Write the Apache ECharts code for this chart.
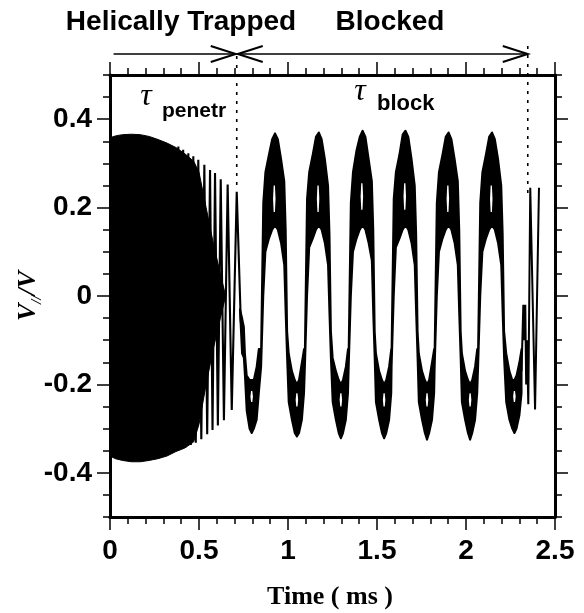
<!DOCTYPE html>
<html><head><meta charset="utf-8">
<script src="https://cdn.jsdelivr.net/npm/echarts@6/dist/echarts.min.js"></script>
<style>html,body{margin:0;padding:0;background:#fff}#c{width:584px;height:613px}</style>
</head><body><div id="c"></div>
<script>
// ---------- data ----------
// time in ms, value V_par / V

// densely oscillating part (solid black envelope)
const denseT  = [0.000, 0.030, 0.070, 0.120, 0.170, 0.220, 0.270, 0.320, 0.370, 0.420, 0.470, 0.500, 0.540, 0.580, 0.620, 0.650];
const denseHi = [0.358, 0.362, 0.365, 0.366, 0.365, 0.361, 0.354, 0.346, 0.336, 0.322, 0.305, 0.280, 0.200, 0.120, 0.050, 0.000];
const denseLo = [-0.362, -0.368, -0.372, -0.375, -0.375, -0.372, -0.368, -0.362, -0.352, -0.344, -0.330, -0.290, -0.200, -0.120, -0.050, 0.000];

// resolved fast oscillations (extremes) before the blocking
const fastT = [0.370, 0.384, 0.397, 0.411, 0.425, 0.440, 0.454, 0.468, 0.482, 0.496, 0.513, 0.530, 0.546, 0.562, 0.576, 0.590, 0.606, 0.622, 0.640, 0.661, 0.684, 0.712, 0.735];
const fastV = [-0.350, 0.338, -0.346, 0.331, -0.342, 0.323, -0.337, 0.316, -0.332, 0.308, -0.324, 0.297, -0.313, 0.285, -0.303, 0.278, -0.293, 0.264, -0.281, 0.252, -0.258, 0.236, -0.060];

// slow (blocked) oscillation: upper and lower edge of the rippled trace
const slowT = [
  0.730, 0.742, 0.752, 0.758, 0.768, 0.784, 0.796, 0.808, 0.824, 0.836,
  0.849, 0.861, 0.873, 0.893, 0.911, 0.927, 0.943, 0.961, 0.979, 0.987, 0.995,
  1.004, 1.022, 1.038, 1.050, 1.062, 1.078, 1.090,
  1.095, 1.107, 1.119, 1.139, 1.157, 1.173, 1.189, 1.207, 1.225, 1.233, 1.241,
  1.251, 1.269, 1.285, 1.297, 1.309, 1.325, 1.337,
  1.341, 1.353, 1.365, 1.385, 1.403, 1.419, 1.435, 1.453, 1.471, 1.479, 1.487,
  1.494, 1.512, 1.528, 1.540, 1.552, 1.568, 1.580,
  1.582, 1.594, 1.606, 1.626, 1.644, 1.660, 1.676, 1.694, 1.712, 1.720, 1.728,
  1.735, 1.753, 1.769, 1.781, 1.793, 1.809, 1.821,
  1.824, 1.836, 1.848, 1.868, 1.886, 1.902, 1.918, 1.936, 1.954, 1.962, 1.970,
  1.977, 1.995, 2.011, 2.023, 2.035, 2.051, 2.063,
  2.068, 2.080, 2.092, 2.112, 2.130, 2.146, 2.162, 2.180, 2.198, 2.206, 2.214,
  2.226, 2.244, 2.260, 2.272, 2.284, 2.300, 2.312
];
const slowHi = [
  -0.03, -0.05, -0.07, -0.13, -0.18, -0.19, -0.19, -0.19, -0.16, -0.12,
  -0.12, 0.21, 0.28, 0.32, 0.355, 0.368, 0.355, 0.31, 0.26, 0.15, -0.08,
  -0.13, -0.17, -0.19, -0.20, -0.19, -0.15, -0.12,
  -0.12, 0.22, 0.28, 0.32, 0.36, 0.370, 0.355, 0.31, 0.25, 0.14, -0.08,
  -0.14, -0.17, -0.19, -0.20, -0.19, -0.16, -0.12,
  -0.12, 0.21, 0.28, 0.33, 0.36, 0.374, 0.36, 0.31, 0.26, 0.15, -0.08,
  -0.13, -0.17, -0.19, -0.20, -0.19, -0.16, -0.12,
  -0.12, 0.22, 0.28, 0.32, 0.365, 0.374, 0.36, 0.31, 0.25, 0.14, -0.08,
  -0.13, -0.17, -0.19, -0.20, -0.19, -0.15, -0.12,
  -0.12, 0.21, 0.28, 0.32, 0.36, 0.370, 0.355, 0.31, 0.26, 0.15, -0.08,
  -0.13, -0.17, -0.19, -0.20, -0.19, -0.16, -0.12,
  -0.12, 0.21, 0.28, 0.32, 0.36, 0.370, 0.355, 0.31, 0.25, 0.14, -0.08,
  -0.13, -0.17, -0.19, -0.19, -0.18, -0.15, -0.12
];
const slowLo = [
  -0.03, -0.13, -0.14, -0.18, -0.26, -0.30, -0.31, -0.30, -0.28, -0.22,
  -0.16, 0.00, 0.10, 0.13, 0.15, 0.16, 0.15, 0.12, 0.07, -0.04, -0.14,
  -0.24, -0.28, -0.31, -0.318, -0.31, -0.28, -0.22,
  -0.16, 0.00, 0.11, 0.13, 0.15, 0.16, 0.15, 0.12, 0.07, -0.04, -0.14,
  -0.24, -0.28, -0.31, -0.322, -0.31, -0.28, -0.22,
  -0.16, 0.00, 0.10, 0.13, 0.15, 0.16, 0.15, 0.12, 0.08, -0.04, -0.14,
  -0.24, -0.28, -0.31, -0.322, -0.31, -0.28, -0.22,
  -0.16, 0.00, 0.11, 0.13, 0.15, 0.16, 0.15, 0.12, 0.07, -0.04, -0.14,
  -0.24, -0.28, -0.31, -0.325, -0.31, -0.28, -0.22,
  -0.16, 0.00, 0.10, 0.13, 0.15, 0.16, 0.15, 0.12, 0.07, -0.04, -0.14,
  -0.24, -0.28, -0.31, -0.325, -0.31, -0.28, -0.22,
  -0.16, 0.00, 0.10, 0.13, 0.15, 0.16, 0.15, 0.12, 0.07, -0.04, -0.14,
  -0.24, -0.28, -0.30, -0.31, -0.30, -0.27, -0.22
];

// white gaps inside the rippled peaks and troughs (centre time, top, bottom)
const notchT   = [0.796, 0.923, 1.050, 1.169, 1.297, 1.415, 1.540, 1.656, 1.781, 1.898, 2.023, 2.142, 2.272];
const notchTop = [-0.215, 0.250, -0.220, 0.250, -0.220, 0.255, -0.220, 0.255, -0.220, 0.250, -0.220, 0.250, -0.215];
const notchBot = [-0.240, 0.190, -0.250, 0.190, -0.250, 0.195, -0.250, 0.195, -0.250, 0.190, -0.250, 0.190, -0.240];

// last spikes after the blocked phase
const endT = [2.312, 2.322, 2.328, 2.333, 2.338, 2.342, 2.350, 2.361, 2.388, 2.410];
const endV = [-0.17, -0.02, -0.10, -0.02, -0.20, -0.10, -0.245, 0.245, -0.257, 0.245];

// axis tick labels
const yLabelValues = [-0.4, -0.2, 0, 0.2, 0.4];

// annotation times (phase boundaries) and arrow start
const phaseBounds = [0.712, 2.347];
const arrowStartT = 0.02;
const dotEndV = [0.24, 0.22];

// ---------- chart ----------
const chart = echarts.init(document.getElementById('c'), null, {renderer: 'canvas'});

const SANS = 'Liberation Sans, Arial, sans-serif';
const SERIF = 'Liberation Serif, Times New Roman, serif';
const axisLine = {show: true, onZero: false, lineStyle: {color: '#000', width: 3}};
const tickStyle = {color: '#000', width: 1.5};
const labelStyle = {fontFamily: SANS, fontWeight: 'bold', fontSize: 28, color: '#000'};
const NOTCH_HALF_W = 0.007;

function bandRenderer(T, HI, LO, w) {
  return function (params, api) {
    if (params.dataIndex !== 0) return null;
    const pts = [];
    for (let i = 0; i < T.length; i++) pts.push(api.coord([T[i], HI[i]]));
    for (let i = T.length - 1; i >= 0; i--) pts.push(api.coord([T[i], LO[i]]));
    return {type: 'polygon', shape: {points: pts},
      style: {fill: '#000', stroke: '#000', lineWidth: w, lineJoin: 'round'}};
  };
}
function notchRenderer(params, api) {
  const t = api.value(0), top = api.value(1), bot = api.value(2), mid = (top + bot) / 2;
  const pts = [
    api.coord([t - NOTCH_HALF_W, mid]), api.coord([t - NOTCH_HALF_W * 0.5, top]),
    api.coord([t + NOTCH_HALF_W * 0.5, top]), api.coord([t + NOTCH_HALF_W, mid]),
    api.coord([t + NOTCH_HALF_W * 0.5, bot]), api.coord([t - NOTCH_HALF_W * 0.5, bot])
  ];
  return {type: 'polygon', shape: {points: pts}, style: {fill: '#fff'}};
}

const xBase = {
  type: 'value', min: 0, max: 2.5, interval: 0.5,
  axisLine: axisLine,
  axisTick: {show: true, length: 13, lineStyle: tickStyle},
  minorTick: {show: true, splitNumber: 5, length: 7, lineStyle: tickStyle},
  splitLine: {show: false}, minorSplitLine: {show: false}
};
const yMinor = {
  type: 'value', min: -0.5, max: 0.5, interval: 0.05,
  axisLine: axisLine,
  axisTick: {show: true, length: 7, lineStyle: tickStyle},
  axisLabel: {show: false}, splitLine: {show: false}
};
const yMajor = {
  type: 'value', min: -0.5, max: 0.5,
  axisLine: {show: false, onZero: false},
  axisTick: {show: true, length: 13, lineStyle: tickStyle, customValues: yLabelValues},
  splitLine: {show: false}
};

chart.setOption({
  animation: false,
  backgroundColor: '#fff',
  grid: {left: 110, right: 29, top: 75, bottom: 96, containLabel: false},
  xAxis: [
    Object.assign({}, xBase, {position: 'bottom',
      axisLabel: Object.assign({margin: 20}, labelStyle)}),
    Object.assign({}, xBase, {position: 'top', axisLabel: {show: false}})
  ],
  yAxis: [
    Object.assign({}, yMinor, {position: 'left'}),
    Object.assign({}, yMajor, {position: 'left',
      axisLabel: Object.assign({show: true, margin: 18, customValues: yLabelValues}, labelStyle)}),
    Object.assign({}, yMinor, {position: 'right'}),
    Object.assign({}, yMajor, {position: 'right', axisLabel: {show: false}})
  ],
  series: [
    {type: 'custom', coordinateSystem: 'cartesian2d', xAxisIndex: 0, yAxisIndex: 0,
     renderItem: bandRenderer(denseT, denseHi, denseLo, 1),
     encode: {x: 0, y: [1, 2]},
     data: denseT.map((t, i) => [t, denseHi[i], denseLo[i]]), clip: true, silent: true},
    {type: 'line', xAxisIndex: 0, yAxisIndex: 0, showSymbol: false, symbol: 'none',
     lineStyle: {color: '#000', width: 2.1}, data: fastT.map((t, i) => [t, fastV[i]]), silent: true},
    {type: 'custom', coordinateSystem: 'cartesian2d', xAxisIndex: 0, yAxisIndex: 0,
     renderItem: bandRenderer(slowT, slowHi, slowLo, 2),
     encode: {x: 0, y: [1, 2]},
     data: slowT.map((t, i) => [t, slowHi[i], slowLo[i]]), clip: true, silent: true},
    {type: 'custom', coordinateSystem: 'cartesian2d', xAxisIndex: 0, yAxisIndex: 0,
     renderItem: notchRenderer, encode: {x: 0, y: [1, 2]},
     data: notchT.map((t, i) => [t, notchTop[i], notchBot[i]]), clip: true, silent: true, z: 3},
    {type: 'line', xAxisIndex: 0, yAxisIndex: 0, showSymbol: false, symbol: 'none',
     lineStyle: {color: '#000', width: 2}, data: endT.map((t, i) => [t, endV[i]]), silent: true}
  ]
});

// ---------- annotations ----------
const px = t => chart.convertToPixel({xAxisIndex: 0}, t);
const py = v => chart.convertToPixel({yAxisIndex: 0}, v);
const arrowY = 54, headL = 25, headH = 8;
const b1 = px(phaseBounds[0]), b2 = px(phaseBounds[1]), a0 = px(arrowStartT);
const lineS = {stroke: '#000', lineWidth: 1.6};
const headS = {stroke: '#000', lineWidth: 2, fill: null};
const dotS = {stroke: '#000', lineWidth: 1.6, lineDash: [3, 6]};

chart.setOption({
  graphic: [
    {type: 'line', shape: {x1: a0, y1: arrowY, x2: b1 - 1, y2: arrowY}, style: lineS, silent: true},
    {type: 'polyline', shape: {points: [[b1 - 1 - headL, arrowY - headH], [b1 - 1, arrowY], [b1 - 1 - headL, arrowY + headH]]}, style: headS, silent: true},
    {type: 'line', shape: {x1: b1 + 1, y1: arrowY, x2: b2, y2: arrowY}, style: lineS, silent: true},
    {type: 'polyline', shape: {points: [[b1 + 1 + headL, arrowY - headH], [b1 + 1, arrowY], [b1 + 1 + headL, arrowY + headH]]}, style: headS, silent: true},
    {type: 'polyline', shape: {points: [[b2 - headL, arrowY - headH], [b2, arrowY], [b2 - headL, arrowY + headH]]}, style: headS, silent: true},
    {type: 'line', shape: {x1: b1, y1: arrowY + 2, x2: b1, y2: py(dotEndV[0])}, style: dotS, silent: true},
    {type: 'line', shape: {x1: b2, y1: arrowY - 8, x2: b2, y2: py(dotEndV[1])}, style: dotS, silent: true},
    {type: 'text', x: 181, y: 22, style: {text: 'Helically Trapped', font: 'bold 28px ' + SANS, fill: '#000', textAlign: 'center', textVerticalAlign: 'middle'}, silent: true},
    {type: 'text', x: 390, y: 22, style: {text: 'Blocked', font: 'bold 28px ' + SANS, fill: '#000', textAlign: 'center', textVerticalAlign: 'middle'}, silent: true},
    {type: 'text', x: 146, y: 97, style: {text: 'τ', font: 'italic 32px ' + SERIF, fill: '#000', textAlign: 'center', textVerticalAlign: 'middle'}, silent: true},
    {type: 'text', x: 162, y: 111, style: {text: 'penetr', font: 'bold 21px ' + SANS, fill: '#000', textAlign: 'left', textVerticalAlign: 'middle'}, silent: true},
    {type: 'text', x: 360, y: 92, style: {text: 'τ', font: 'italic 32px ' + SERIF, fill: '#000', textAlign: 'center', textVerticalAlign: 'middle'}, silent: true},
    {type: 'text', x: 377, y: 104, style: {text: 'block', font: 'bold 22px ' + SANS, fill: '#000', textAlign: 'left', textVerticalAlign: 'middle'}, silent: true},
    {type: 'text', x: 330, y: 597, style: {text: 'Time ( ms )', font: 'bold 26px ' + SERIF, fill: '#000', textAlign: 'center', textVerticalAlign: 'middle'}, silent: true},
    {type: 'text', x: 28, y: 296, rotation: Math.PI / 2,
     style: {text: '{v|V}{s|//}{v|/V}', fill: '#000', textAlign: 'center', textVerticalAlign: 'middle',
       rich: {
         v: {fontFamily: SERIF, fontStyle: 'italic', fontWeight: 'bold', fontSize: 26, lineHeight: 34, fill: '#000', color: '#000'},
         s: {fontFamily: SERIF, fontStyle: 'italic', fontWeight: 'bold', fontSize: 15, lineHeight: 15, verticalAlign: 'bottom', fill: '#000', color: '#000'}
       }}, silent: true}
  ]
});
</script></body></html>
